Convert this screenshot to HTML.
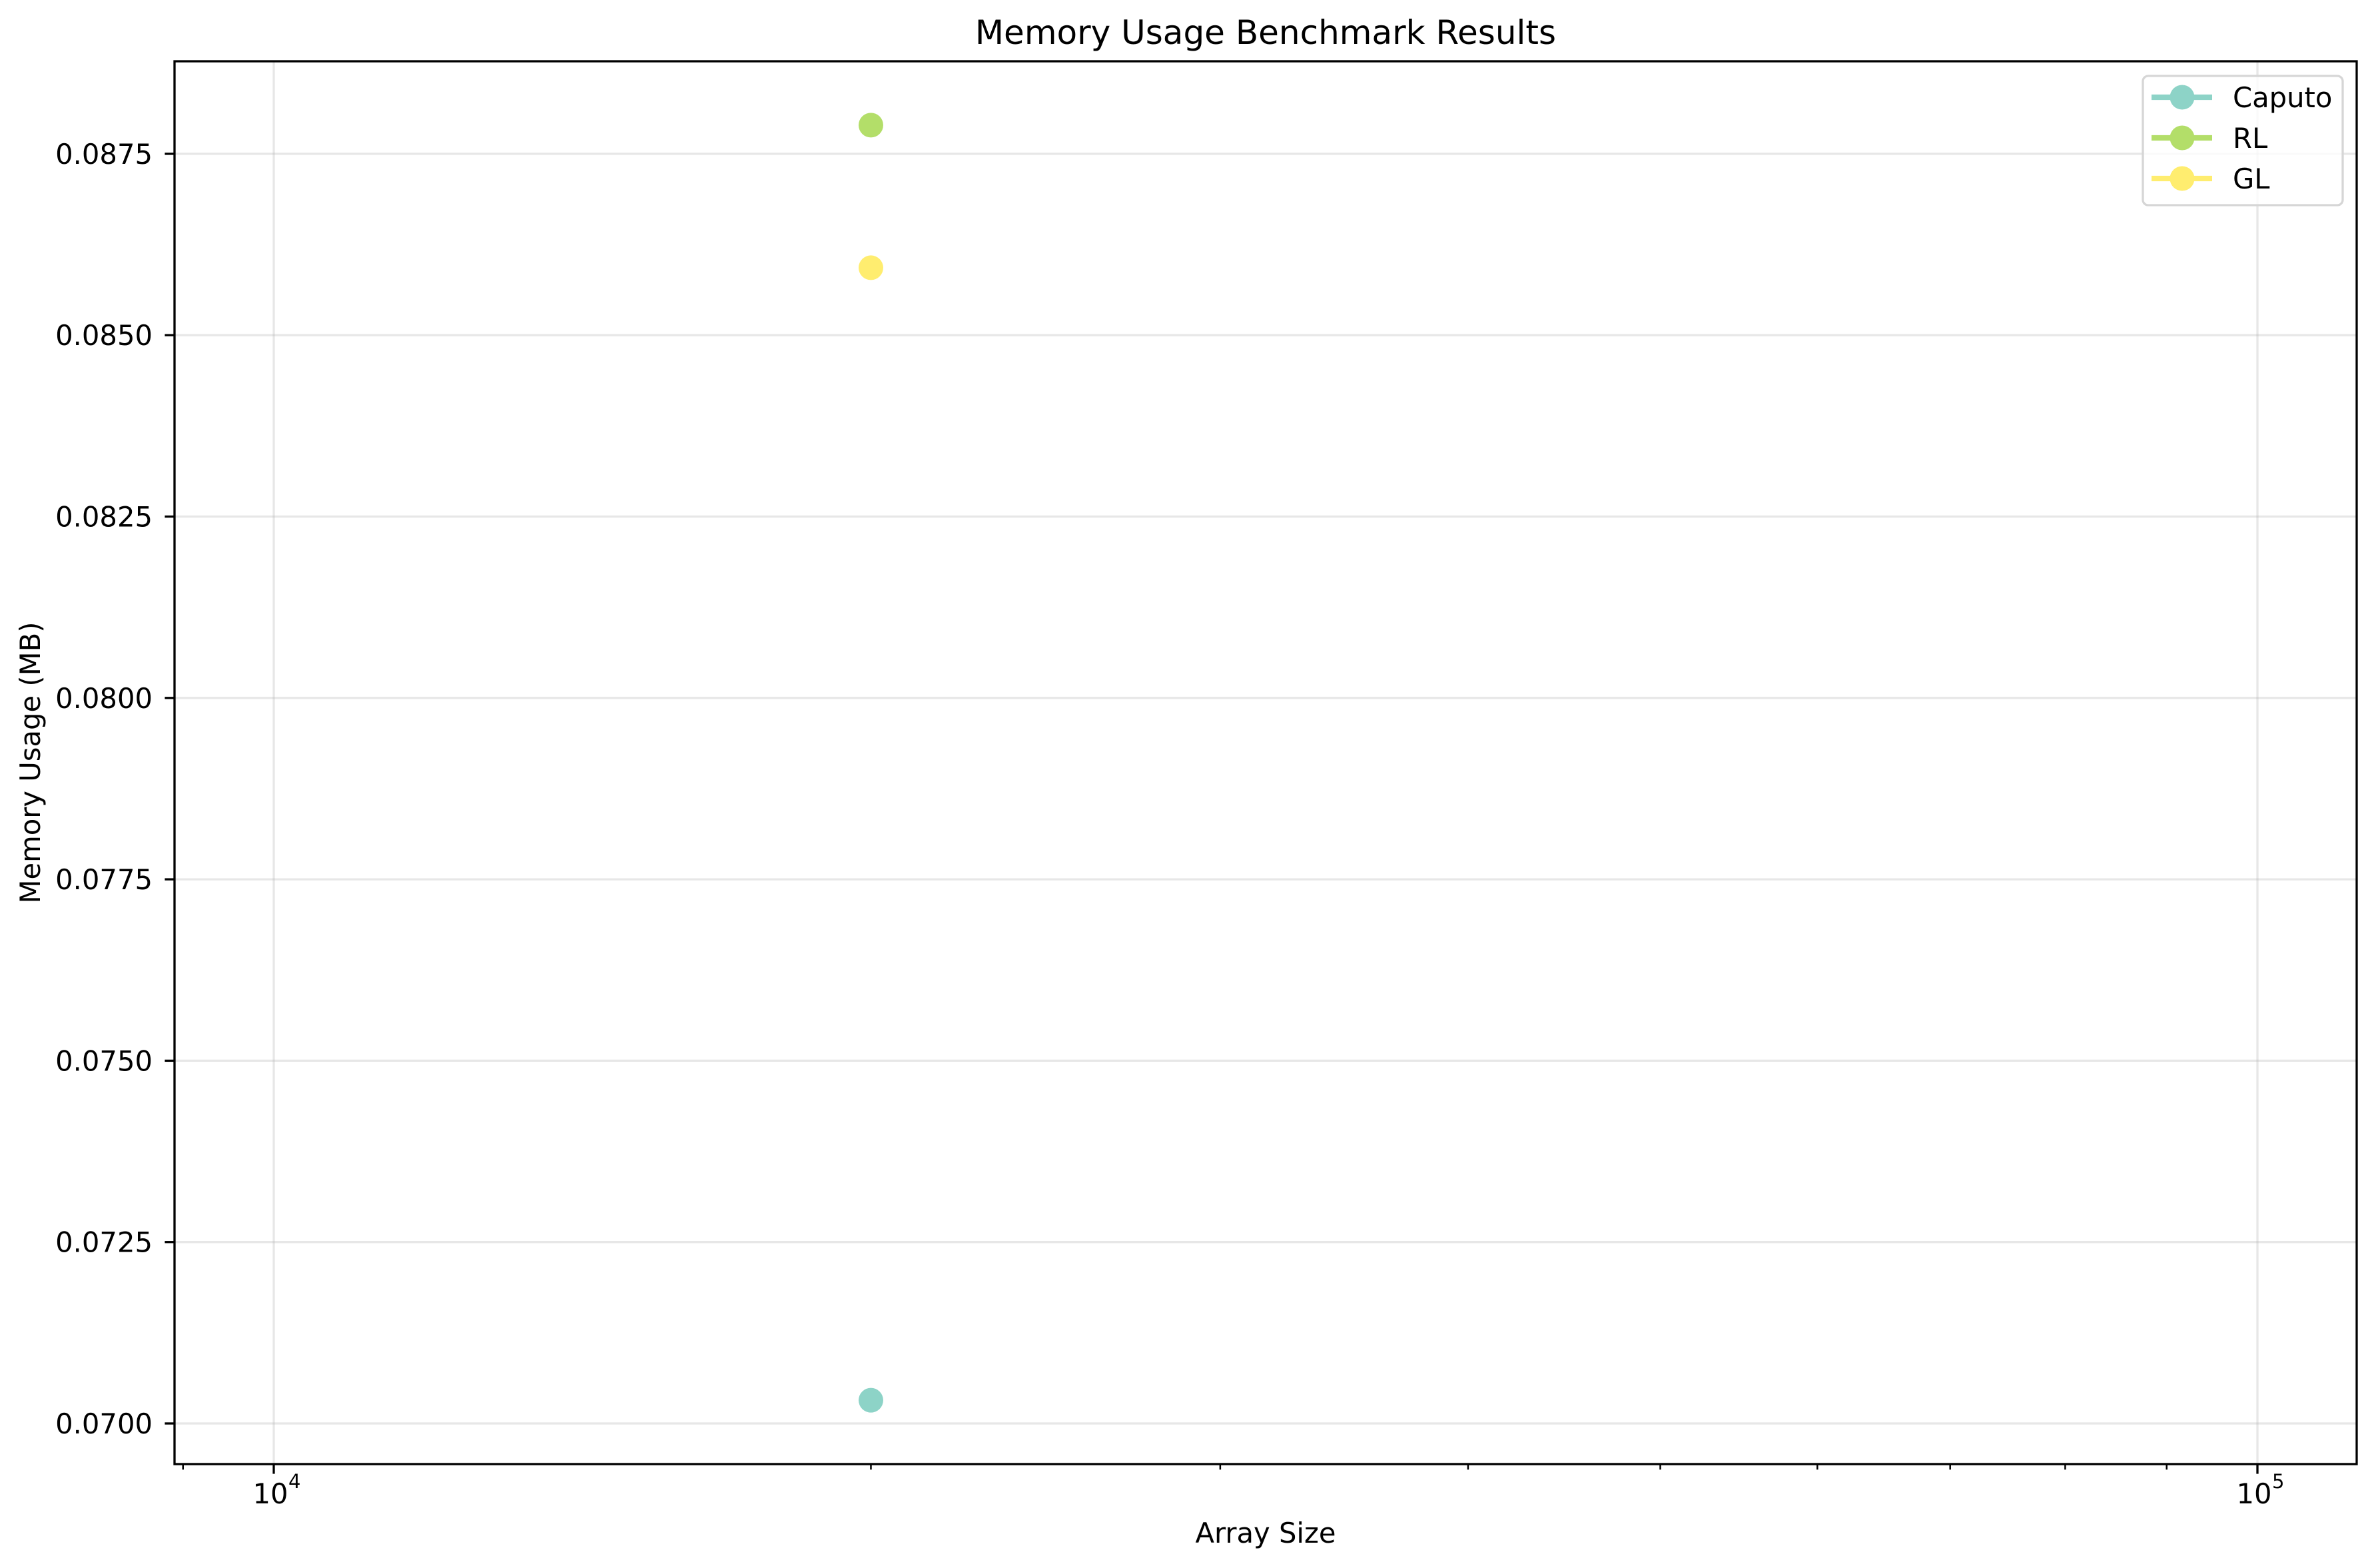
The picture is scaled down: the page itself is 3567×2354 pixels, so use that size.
<!DOCTYPE html>
<html><head><meta charset="utf-8"><style>
html,body{margin:0;padding:0;background:#fff;}
svg{display:block;font-family:"DejaVu Sans","Liberation Sans",sans-serif;}
</style></head><body>
<svg id="chart" width="3567" height="2354" viewBox="0 0 3567 2354" xmlns="http://www.w3.org/2000/svg">
<rect width="3567" height="2354" fill="#fff"/>
<g id="grid"></g><g id="marks"></g><g id="axes"></g><g id="legend"></g>
</svg>
<script>
const seriesNames = ["Caputo", "RL", "GL"];
const seriesColors = ["#8dd3c7", "#b3de69", "#ffed6f"];
const arraySizes = [20000];
const caputoValues = [0.07032];
const rlValues = [0.087895];
const glValues = [0.08593];
const yTicks = [0.0700, 0.0725, 0.0750, 0.0775, 0.0800, 0.0825, 0.0850, 0.0875];
const yTickLabels = ["0.0700","0.0725","0.0750","0.0775","0.0800","0.0825","0.0850","0.0875"];
const xMajorTicks = [10000, 100000];
const xMajorLabels = ["4","5"];

const NS="http://www.w3.org/2000/svg";
const L=262, R=3538, T=92, B=2198;
function xs(v){ return 411 + (Math.log10(v)-4)*2978; }
function ys(v){ return 2137 - (v-0.07)/0.0025*272.3; }
function mk(tag,attrs,parent,text){const e=document.createElementNS(NS,tag);for(const k in attrs)e.setAttribute(k,attrs[k]);if(text!==undefined)e.textContent=text;parent.appendChild(e);return e;}
const grid=document.getElementById('grid'), marks=document.getElementById('marks'), axes=document.getElementById('axes'), legend=document.getElementById('legend');

yTicks.forEach((t,i)=>{
  const y=ys(t);
  const g=mk('line',{x1:L,x2:R,y1:y,y2:y,stroke:'#b0b0b0','stroke-opacity':0.3,'stroke-width':3.3},grid);
  
  
  const tk=mk('line',{x1:L-14.6,x2:L,y1:y,y2:y,stroke:'#000','stroke-width':3.3},axes);
  
  
  const tx=mk('text',{x:229,y:y+15,'text-anchor':'end','font-size':41.7},axes,yTickLabels[i]);
  
  
});
xMajorTicks.forEach((t,i)=>{
  const x=xs(t);
  const g=mk('line',{x1:x,x2:x,y1:T,y2:B,stroke:'#b0b0b0','stroke-opacity':0.3,'stroke-width':3.3},grid);
  
  
  const tk=mk('line',{x1:x,x2:x,y1:B,y2:B+14.6,stroke:'#000','stroke-width':3.3},axes);
  
  
  const tx=mk('text',{x:x-5,y:2257,'text-anchor':'middle','font-size':41.7},axes,'10');
  
  
  const sp=mk('text',{x:x+22,y:2234,'text-anchor':'start','font-size':29},axes,xMajorLabels[i]);
  
  
});
for(let d=3;d<=5;d++){for(let m=2;m<=9;m++){const v=m*Math.pow(10,d);const x=xs(v);if(x<L||x>R)continue;
  const tk=mk('line',{x1:x,x2:x,y1:B,y2:B+8.3,stroke:'#000','stroke-width':2.5},axes);
  
  
}}
const allValues=[caputoValues,rlValues,glValues];
allValues.forEach((vals,si)=>{
  if(vals.length>1){const pts=vals.map((v,i)=>xs(arraySizes[i])+','+ys(v)).join(' ');
    const pl=mk('polyline',{points:pts,fill:'none',stroke:seriesColors[si],'stroke-width':8.3},marks);
    
    }
  vals.forEach((v,i)=>{
    const c=mk('circle',{cx:xs(arraySizes[i]),cy:ys(v),r:18.5,fill:seriesColors[si]},marks);
    
    
  });
});
const frame=mk('rect',{x:L,y:T,width:R-L,height:B-T,fill:'none',stroke:'#000','stroke-width':3.3},axes);


const title=mk('text',{x:(L+R)/2,y:66,'text-anchor':'middle','font-size':50},axes,'Memory Usage Benchmark Results');


const xl=mk('text',{x:(L+R)/2,y:2316,'text-anchor':'middle','font-size':41.7},axes,'Array Size');


const yl=mk('text',{x:0,y:0,'text-anchor':'middle','font-size':41.7,transform:'translate(60,'+((T+B)/2)+') rotate(-90)'},axes,'Memory Usage (MB)');


const lb=mk('rect',{x:3217,y:114,width:300,height:194,rx:8,fill:'#fff','fill-opacity':0.8,stroke:'#d6d6d6','stroke-width':3.3},legend);


seriesNames.forEach((n,i)=>{
  const y=146+i*61;
  const ln=mk('line',{x1:3230,x2:3321,y1:y,y2:y,stroke:seriesColors[i],'stroke-width':8.3},legend);
  
  
  const c=mk('circle',{cx:3276,cy:y,r:18.5,fill:seriesColors[i]},legend);
  
  
  const t=mk('text',{x:3352,y:y+15,'font-size':41.7},legend,n);
  
  
});
</script>
</body></html>
